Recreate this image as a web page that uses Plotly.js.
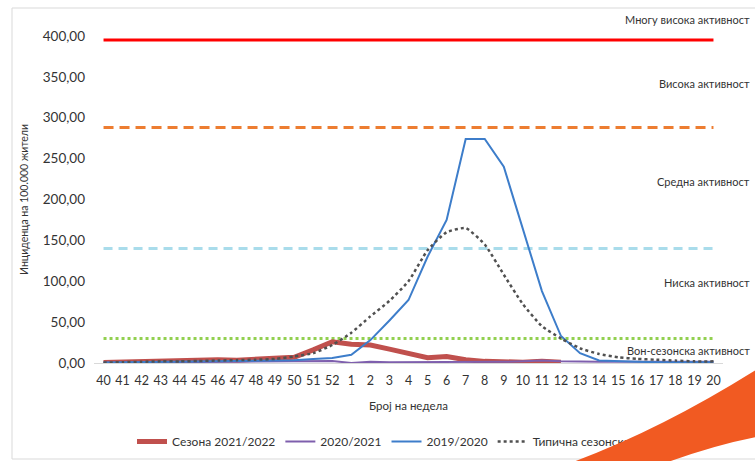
<!DOCTYPE html>
<html>
<head>
<meta charset="utf-8">
<script src="https://cdn.plot.ly/plotly-3.0.1.min.js"></script>
<style>
  html, body { margin: 0; padding: 0; background: #fff; }
  #wrap { position: relative; width: 755px; height: 461px; overflow: hidden; }
  #chart { width: 755px; height: 461px; }
  #swoosh { position: absolute; left: 0; top: 0; pointer-events: none; }
</style>
</head>
<body>
<div id="wrap">
  <div id="chart"></div>
  <svg id="swoosh" width="755" height="461" viewBox="0 0 755 461">
    <path d="M 573 462 Q 660 430 756 370 L 756 437 Q 715 445 668 462 Z" fill="#F15A22"/>
  </svg>
</div>
<script>
// Week categories (flu season: week 40 to week 20)
const weeks = ['40','41','42','43','44','45','46','47','48','49','50','51','52',
               '1','2','3','4','5','6','7','8','9','10','11','12','13','14','15','16','17','18','19','20'];

// Series values (incidence per 100,000)
const season2122 = [0.5,1,2,3,3.5,4.5,4,3.5,4.5,6,7,16,26,
                    23,22,17,12,6.5,8,4,2,1,1,2,1,null,null,null,null,null,null,null,null];
const season2021 = [0.3,0.5,0.8,1,1,1.2,1.5,1.5,1.8,2,2,2.5,2.5,
                    0,1.5,1,1,1,1.2,1,1,1.5,2,3,2,1.5,1.5,1.5,1.5,1.5,1.5,1.5,1.5];
const season1920 = [0.5,0.8,1,1.2,1.5,1.8,2,2.3,2.6,3,3.5,5,6,
                    10,28,52,77,130,175,274,274,240,165,88,33,12,3,2,1.5,1,1,1,1];
const typicalCurve = [0.5,1,1.5,2,2,2.5,3,3.5,4,5,8,12,22,
                      37,57,76,100,138,160,165,145,108,72,45,30,18,11,7,5,4,3,2,2];

// Activity thresholds
const thresholdNames = ['Вон-сезонска активност','Ниска активност','Средна активност','Висока активност','Многу висока активност'];
const thresholdValues = [30, 140, 288, 395];
const thresholdLabelPx = [350, 282, 181, 83, 20];

const seriesNames = ['Сезона 2021/2022','2020/2021','2019/2020','Типична сезонска крива'];
const yTicks = [0,50,100,150,200,250,300,350,400];

const FONT = 'Lato, "Open Sans", sans-serif';

const thresholdStyles = [
  {color:'#92D050', width:3, dash:'3px,3px'},
  {color:'#A9DCEB', width:3, dash:'9px,6px'},
  {color:'#ED7D31', width:3, dash:'10px,6px'},
  {color:'#FF0000', width:3, dash:'solid'}
];

const traces = [];
thresholdValues.forEach((v, i) => {
  traces.push({
    x: weeks, y: weeks.map(() => v), type: 'scatter', mode: 'lines',
    line: thresholdStyles[i], showlegend: false, hoverinfo: 'skip'
  });
});
traces.push({x: weeks, y: season2122, name: seriesNames[0], type:'scatter', mode:'lines',
  line:{color:'#C0504D', width:5}, connectgaps:false});
traces.push({x: weeks, y: season2021, name: seriesNames[1], type:'scatter', mode:'lines',
  line:{color:'#7E5FAD', width:2}});
traces.push({x: weeks, y: season1920, name: seriesNames[2], type:'scatter', mode:'lines',
  line:{color:'#3D7DCA', width:2}});
traces.push({x: weeks, y: typicalCurve, name: seriesNames[3], type:'scatter', mode:'lines',
  line:{color:'#505050', width:2.5, dash:'dot', shape:'spline', smoothing:0.5}});

// pixel -> paper helpers (plot area: x 94..723, y 36..363)
const L = 94, R = 32, T = 36, B = 98, W = 755 - L - R, H = 461 - T - B;
const px = x => (x - L) / W;
const py = y => (461 - B - y) / H;

const annotations = thresholdNames.map((t, i) => ({
  text: t, xref: 'paper', yref: 'paper', x: px(752), y: py(thresholdLabelPx[i]),
  xanchor: 'right', yanchor: 'middle', showarrow: false,
  font: {family: FONT, size: 11, color: '#333333'}
}));

const layout = {
  width: 755, height: 461,
  margin: {l: L, r: R, t: T, b: B, autoexpand: false},
  paper_bgcolor: '#fff', plot_bgcolor: '#fff',
  separators: ',.',
  font: {family: FONT, size: 12, color: '#333333'},
  showlegend: true,
  legend: {orientation: 'h', x: px(132), y: py(427), xanchor: 'left', yanchor: 'top',
           font: {family: FONT, size: 12, color: '#333333'}, bgcolor: 'rgba(0,0,0,0)'},
  xaxis: {
    type: 'category', range: [-0.5, 32.5], showgrid: false, zeroline: false, automargin: false,
    showline: true, linecolor: '#D9D9D9', linewidth: 1, ticks: '',
    tickfont: {family: FONT, size: 12.5, color: '#333333'}, ticklabelstandoff: 6,
    title: {text: 'Број на недела', font: {family: FONT, size: 11.5, color: '#333333'}, standoff: 14}
  },
  yaxis: {
    range: [0, 400], tickvals: yTicks, tickformat: '.2f', showgrid: false, zeroline: false,
    automargin: false, showline: false, ticks: '', tickfont: {family: FONT, size: 13.5, color: '#333333'},
    ticklabelstandoff: 8,
    title: {text: 'Инциденца на 100.000 жители', font: {family: FONT, size: 10.5, color: '#333333'}, standoff: 12}
  },
  annotations: annotations,
  shapes: [{type: 'rect', xref: 'paper', yref: 'paper', x0: px(12), x1: px(770), y0: py(459), y1: py(8),
            line: {color: '#D9D9D9', width: 1}, fillcolor: 'rgba(0,0,0,0)', layer: 'below'}]
};

Plotly.newPlot('chart', traces, layout, {displayModeBar: false, staticPlot: true});
</script>
</body>
</html>
